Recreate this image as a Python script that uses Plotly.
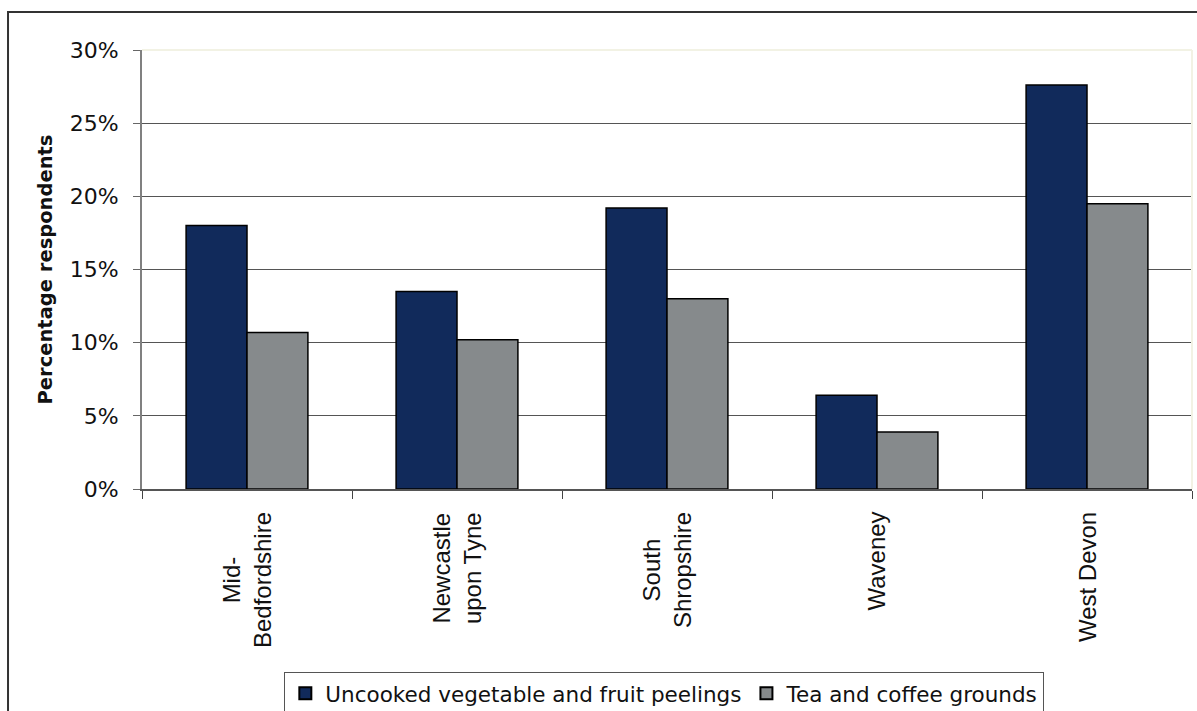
import plotly.graph_objects as go

categories = ["Mid-Bedfordshire", "Newcastle upon Tyne", "South Shropshire", "Waveney", "West Devon"]
category_labels = ["Mid-<br>Bedfordshire", "Newcastle<br>upon Tyne", "South<br>Shropshire", "Waveney", "West Devon"]
peelings = [18.0, 13.5, 19.2, 6.4, 27.6]
grounds = [10.7, 10.2, 13.0, 3.9, 19.5]
series_names = ["Uncooked vegetable and fruit peelings", "Tea and coffee grounds"]
ytick_vals = [0, 5, 10, 15, 20, 25, 30]
ytick_text = ["0%", "5%", "10%", "15%", "20%", "25%", "30%"]

ARIAL = "Liberation Sans, Arial, sans-serif"
WIDE = "DejaVu Sans, Verdana, sans-serif"

fig = go.Figure()
fig.add_trace(go.Bar(x=categories, y=peelings, name=series_names[0],
                     marker=dict(color="#112A5B", line=dict(color="#000000", width=1.5))))
fig.add_trace(go.Bar(x=categories, y=grounds, name=series_names[1],
                     marker=dict(color="#868A8C", line=dict(color="#000000", width=1.5))))

fig.update_layout(
    width=1197, height=711,
    margin=dict(l=142, r=5, t=50, b=222),
    paper_bgcolor="white", plot_bgcolor="white",
    barmode="group", bargap=0.42, bargroupgap=0,
    font=dict(family=WIDE, size=20, color="#111111"),
    showlegend=True,
    legend=dict(orientation="h", xref="container", yref="container",
                x=0.555, xanchor="center", y=0.055, yanchor="top",
                bordercolor="#555555", borderwidth=1, font=dict(size=21.5, family=WIDE, color="#111111"),
                traceorder="normal", itemsizing="constant"),
    xaxis=dict(type="category", showline=True, linecolor="#555555", linewidth=1.5,
               ticks="outside", tickson="boundaries", ticklen=8, tickcolor="#444444",
               showgrid=False, showticklabels=False, range=[-0.5, 4.5], automargin=False),
    yaxis=dict(range=[0, 30], tickvals=ytick_vals, ticktext=ytick_text,
               showline=True, linecolor="#808080", linewidth=2,
               ticks="outside", ticklen=7, tickcolor="#666666",
               showgrid=True, gridcolor="#555555", gridwidth=1.2,
               zeroline=False, ticklabelstandoff=10, automargin=False,
               tickfont=dict(size=22, family=WIDE, color="#111111"),
               title=dict(text="<b>Percentage respondents</b>",
                          font=dict(size=19.5, family=WIDE, color="#111111"), standoff=12)),
)

# category labels, rotated, lines centred, placed on the x axis scale
for cat, lab in zip(categories, category_labels):
    fig.add_annotation(x=cat, xref="x", y=-0.048, yref="paper", text=lab,
                       textangle=-90, showarrow=False, xanchor="center", yanchor="top",
                       align="center", font=dict(size=24, family=ARIAL, color="#111111"))

# faint plot-area border (top and right)
fig.add_shape(type="line", xref="paper", yref="paper", x0=0, x1=1, y0=1, y1=1,
              line=dict(color="#F2F2E4", width=2), layer="above")
fig.add_shape(type="line", xref="paper", yref="paper", x0=1, x1=1, y0=0, y1=1,
              line=dict(color="#F2F2E4", width=2), layer="above")
# outer chart border (cropped at right and bottom)
fig.add_shape(type="rect", xref="paper", yref="paper", x0=-0.1276, x1=1.2, y0=-0.7, y1=1.0866,
              line=dict(color="#333333", width=2), layer="above")

fig.write_html("out.html")
